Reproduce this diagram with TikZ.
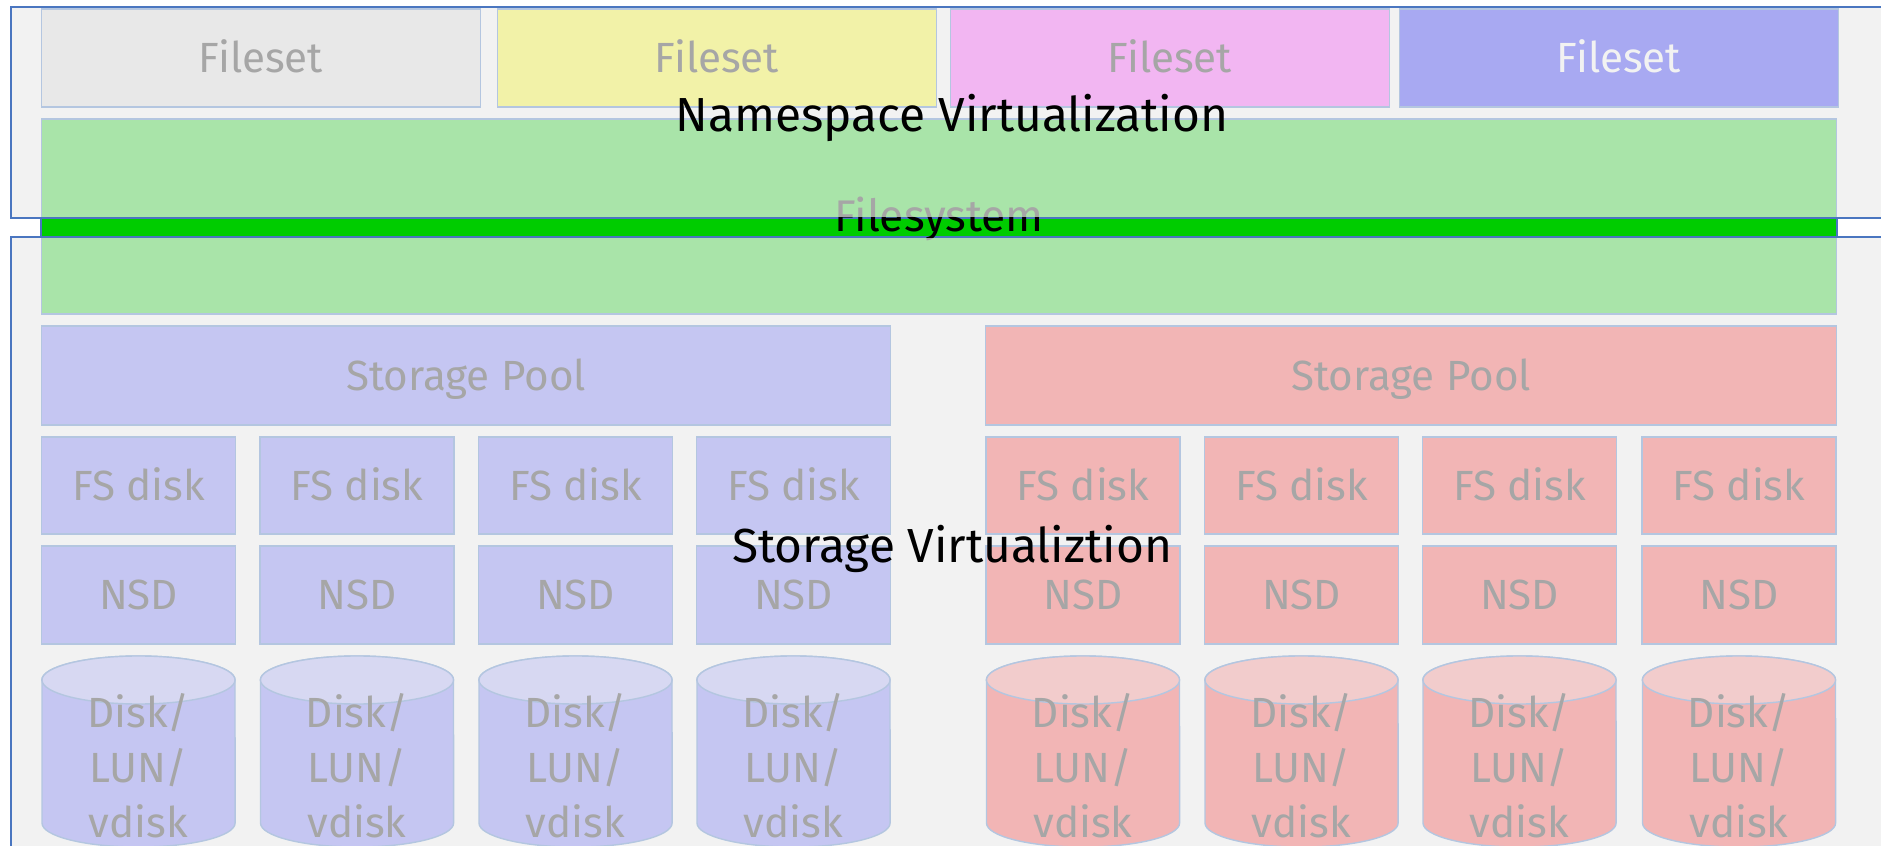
\documentclass[tikz,border=0pt]{standalone}
\usepackage{fontspec}
\setmainfont{Fira Sans}

\definecolor{framecol}{HTML}{4A76C0}
\definecolor{bgcol}{HTML}{F2F2F2}
\definecolor{edgecol}{HTML}{B4C6E0}
\definecolor{txtcol}{HTML}{A6A6A6}
\definecolor{fsgray}{HTML}{E8E8E8}
\definecolor{fsyellow}{HTML}{F2F2A8}
\definecolor{fspink}{HTML}{F2B6F2}
\definecolor{fsblue}{HTML}{A8A9F2}
\definecolor{fsgreen}{HTML}{A9E4A9}
\definecolor{barcol}{HTML}{00CC00}
\definecolor{bluepool}{HTML}{C5C6F2}
\definecolor{bluetop}{HTML}{D7D8F2}
\definecolor{redpool}{HTML}{F2B5B5}
\definecolor{redtop}{HTML}{F2CCCC}

\begin{document}
\begin{tikzpicture}[
    x=0.01cm, y=-0.01cm,
    frame/.style={draw=framecol, fill=bgcol, line width=0.5pt},
    box/.style={draw=edgecol, line width=0.4pt, inner sep=0pt, text=txtcol,
        text height=8.3pt, text depth=0pt, font=\fontsize{12}{14}\selectfont},
    fileset/.style={box, minimum width=4.39cm, minimum height=0.98cm},
    pool/.style={box, minimum height=0.99cm},
    fsdisk/.style={box, fill=#1, minimum width=1.94cm, minimum height=0.97cm},
    nsd/.style={box, fill=#1, minimum width=1.94cm, minimum height=0.98cm},
    pics/lundisk/.style n args={2}{code={
        \path[draw=edgecol, line width=0.4pt, fill=#1] (-96.5,-71.5) -- (-96.5,71.5)
            arc[start angle=180, end angle=360, x radius=0.965cm, y radius=0.24cm]
            -- (96.5,-71.5)
            arc[start angle=0, end angle=180, x radius=0.965cm, y radius=0.24cm] -- cycle;
        \path[draw=edgecol, line width=0.4pt, fill=#2] (0,-71.5)
            ellipse[x radius=0.965cm, y radius=0.24cm];
    }},
    disktext/.style={text=txtcol, align=center, font=\fontsize{12}{15.6}\selectfont},
    title/.style={anchor=base, text=black, font=\fontsize{13.6}{16}\selectfont}
]

\useasboundingbox (0,0) rectangle (1881,846);
\clip (0,0) rectangle (1881,846);

% frames
\path[frame] (11,7) rectangle (1900,218);
\path[frame] (11,237) rectangle (1900,900);

% filesets
\node[fileset, fill=fsgray] (set1) at (261,58) {Fileset};
\node[fileset, fill=fsyellow] (set2) at (717,58) {Fileset};
\node[fileset, fill=fspink] (set3) at (1170,58) {Fileset};
\node[fileset, fill=fsblue, text=bgcol] (set4) at (1619,58) {Fileset};

% filesystem and bar
\node[box, fill=fsgreen, minimum width=17.945cm, minimum height=1.95cm,
    text height=8.8pt, font=\fontsize{12.6}{14}\selectfont] (fsys) at (939,216.5) {Filesystem};
\node[draw=framecol, fill=barcol, line width=0.5pt, inner sep=0pt,
    minimum width=17.945cm, minimum height=0.19cm] (bar) at (939,227.5) {};
\begin{scope}
\clip (bar.south west) rectangle (bar.north east);
\node[inner sep=0pt, text=black, text height=8.8pt, text depth=0pt,
    font=\fontsize{12.6}{14}\selectfont] (fsysin) at (fsys.center) {Filesystem};
\end{scope}

% storage pools
\node[pool, fill=bluepool, minimum width=8.48cm] (pool1) at (466,375.5) {Storage Pool};
\node[pool, fill=redpool, minimum width=8.50cm] (pool2) at (1411,375.5) {Storage Pool};

% FS disks
\node[fsdisk=bluepool] (fsd1) at (138.5,485.5) {FS disk};
\node[fsdisk=bluepool] (fsd2) at (357,485.5) {FS disk};
\node[fsdisk=bluepool] (fsd3) at (575.5,485.5) {FS disk};
\node[fsdisk=bluepool] (fsd4) at (793.5,485.5) {FS disk};
\node[fsdisk=redpool] (fsd5) at (1083,485.5) {FS disk};
\node[fsdisk=redpool] (fsd6) at (1301.5,485.5) {FS disk};
\node[fsdisk=redpool] (fsd7) at (1519.5,485.5) {FS disk};
\node[fsdisk=redpool] (fsd8) at (1739,485.5) {FS disk};

% NSDs
\node[nsd=bluepool] (nsd1) at (138.5,595) {NSD};
\node[nsd=bluepool] (nsd2) at (357,595) {NSD};
\node[nsd=bluepool] (nsd3) at (575.5,595) {NSD};
\node[nsd=bluepool] (nsd4) at (793.5,595) {NSD};
\node[nsd=redpool] (nsd5) at (1083,595) {NSD};
\node[nsd=redpool] (nsd6) at (1301.5,595) {NSD};
\node[nsd=redpool] (nsd7) at (1519.5,595) {NSD};
\node[nsd=redpool] (nsd8) at (1739,595) {NSD};

% disks
\pic (lun1) at (138.5,751.5) {lundisk={bluepool}{bluetop}};
\pic (lun2) at (357,751.5) {lundisk={bluepool}{bluetop}};
\pic (lun3) at (575.5,751.5) {lundisk={bluepool}{bluetop}};
\pic (lun4) at (793.5,751.5) {lundisk={bluepool}{bluetop}};
\pic (lun5) at (1083,751.5) {lundisk={redpool}{redtop}};
\pic (lun6) at (1301.5,751.5) {lundisk={redpool}{redtop}};
\pic (lun7) at (1519.5,751.5) {lundisk={redpool}{redtop}};
\pic (lun8) at (1739,751.5) {lundisk={redpool}{redtop}};

\node[disktext] (lun1t) at (138.5,766) {Disk/\\LUN/\\vdisk};
\node[disktext] (lun2t) at (357,766) {Disk/\\LUN/\\vdisk};
\node[disktext] (lun3t) at (575.5,766) {Disk/\\LUN/\\vdisk};
\node[disktext] (lun4t) at (793.5,766) {Disk/\\LUN/\\vdisk};
\node[disktext] (lun5t) at (1083,766) {Disk/\\LUN/\\vdisk};
\node[disktext] (lun6t) at (1301.5,766) {Disk/\\LUN/\\vdisk};
\node[disktext] (lun7t) at (1519.5,766) {Disk/\\LUN/\\vdisk};
\node[disktext] (lun8t) at (1739,766) {Disk/\\LUN/\\vdisk};

% titles
\node[title] (nsvirt) at (952,132) {Namespace Virtualization};
\node[title] (stvirt) at (952,563) {Storage Virtualiztion};

\end{tikzpicture}
\end{document}
